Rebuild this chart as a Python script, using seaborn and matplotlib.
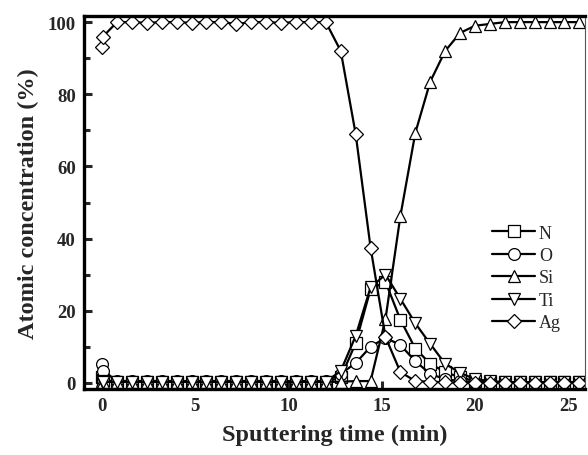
import matplotlib
matplotlib.use("Agg")
import matplotlib.pyplot as plt
from matplotlib.ticker import MultipleLocator
import seaborn as sns
import pandas as pd

sns.set_theme(style="white")
plt.rcParams['font.family'] = ['Liberation Serif', 'DejaVu Serif']

times = [0, 0.05, 0.8, 1.6, 2.4, 3.2, 4.0, 4.8, 5.6, 6.4, 7.2, 8.0, 8.8, 9.6,
         10.4, 11.2, 12.0, 12.8, 13.6, 14.4, 15.2, 16.0, 16.8, 17.6, 18.4,
         19.2, 20.0, 20.8, 21.6, 22.4, 23.2, 24.0, 24.8, 25.6]

N_vals = [1.5, 0.8, 0.3, 0.3, 0.3, 0.3, 0.3, 0.3, 0.3, 0.3, 0.3, 0.3, 0.3, 0.3,
          0.3, 0.3, 0.3, 1.5, 11, 26, 28, 17.5, 9.5, 5.3, 3, 1.5, 0.5, 0.2,
          0.2, 0.2, 0.2, 0.2, 0.2, 0.2]
O_vals = [5.3, 3.4, 0.5, 0.5, 0.5, 0.5, 0.5, 0.5, 0.5, 0.5, 0.5, 0.5, 0.5, 0.5,
          0.5, 0.5, 0.5, 2.5, 5.5, 10, 12.5, 10.5, 6, 2.5, 1, 0.5, 0.2, 0.2,
          0.2, 0.2, 0.2, 0.2, 0.2, 0.2]
Si_vals = [0.5, 0.3, 0.3, 0.3, 0.3, 0.3, 0.3, 0.3, 0.3, 0.3, 0.3, 0.3, 0.3, 0.3,
           0.3, 0.3, 0.3, 0.3, 0.5, 0.5, 17.7, 46.3, 69.3, 83.5, 92, 97, 99,
           99.5, 100, 100, 100, 100, 100, 100]
Ti_vals = [0.5, 0.3, 0.3, 0.3, 0.3, 0.3, 0.3, 0.3, 0.3, 0.3, 0.3, 0.3, 0.3, 0.3,
           0.3, 0.3, 0.3, 3.3, 13, 26.5, 30, 23.3, 16.5, 10.8, 5.3, 2.8, 1, 0.5,
           0.2, 0.2, 0.2, 0.2, 0.2, 0.2]
Ag_vals = [93, 96, 100, 100, 99.8, 100, 100, 99.8, 100, 100, 99.5, 100, 100, 99.8,
           100, 100, 100, 92, 69, 37.5, 12.7, 3, 0.5, 0.3, 0.2, 0, 0, 0, 0, 0, 0,
           0, 0, 0]

labels = ["N", "O", "Si", "Ti", "Ag"]
series = [N_vals, O_vals, Si_vals, Ti_vals, Ag_vals]
markers = ["s", "o", "^", "v", "D"]
msizes = [8, 8.5, 9, 9, 7.5]

fig = plt.figure(figsize=(5.88, 4.56), dpi=100)
ax = fig.add_axes([84/588, 1-390/456, (585-84)/588, (390-17)/456])

for lab, vals, mk, ms in zip(labels, series, markers, msizes):
    df = pd.DataFrame({"t": times, "v": vals})
    sns.lineplot(data=df, x="t", y="v", ax=ax, color="black", linewidth=1.6,
                 marker=mk, markersize=ms, markerfacecolor="white",
                 markeredgecolor="black", markeredgewidth=0.9,
                 sort=False, estimator=None, label=lab)

ax.set_xlim(-0.97, 25.9)
ax.set_ylim(-1.7, 101.7)
ax.xaxis.set_major_locator(MultipleLocator(5))
ax.yaxis.set_major_locator(MultipleLocator(20))
ax.yaxis.set_minor_locator(MultipleLocator(10))
ax.tick_params(axis='both', which='major', direction='in', length=6, width=2.2,
               labelsize=13.5, pad=6)
ax.tick_params(axis='y', which='minor', direction='in', length=4, width=2.2, left=True)
ax.tick_params(axis='x', which='both', bottom=True, top=False)
ax.tick_params(axis='y', which='both', left=True, right=False)
for lbl in ax.get_xticklabels() + ax.get_yticklabels():
    lbl.set_fontweight('bold')

for side in ['left', 'bottom', 'top']:
    ax.spines[side].set_linewidth(2.4)
    ax.spines[side].set_color('black')
ax.spines['right'].set_linewidth(0.8)
ax.spines['right'].set_color('#555555')

ax.set_xlabel("Sputtering time (min)", fontsize=17.5, fontweight='bold', labelpad=7)
ax.set_ylabel("Atomic concentration (%)", fontsize=17.5, fontweight='bold', labelpad=6)

leg = ax.legend(loc='upper left', bbox_to_anchor=(0.8, 0.46), frameon=False,
                fontsize=13, handlelength=2.4, handletextpad=0.2,
                labelspacing=0.3, borderaxespad=0)

fig.savefig("out.png", dpi=100)
